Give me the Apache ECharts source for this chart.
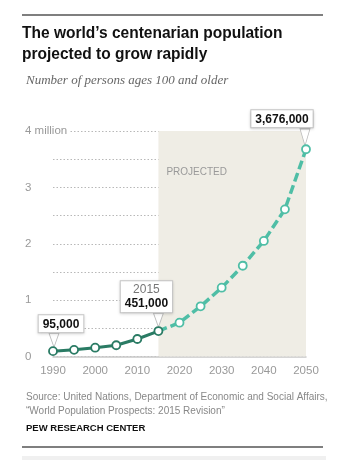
<!DOCTYPE html>
<html>
<head>
<meta charset="utf-8">
<script src="https://cdn.jsdelivr.net/npm/echarts@6/dist/echarts.min.js"></script>
<style>
  html, body { margin: 0; padding: 0; background: #fff; }
  #chart { width: 350px; height: 460px; }
</style>
</head>
<body>
<div id="chart"></div>
<script>
// centenarians, in millions
var histYears = [1990, 1995, 2000, 2005, 2010, 2015];
var histValues = [0.095, 0.118, 0.156, 0.2, 0.31, 0.451];
var projYears = [2015, 2020, 2025, 2030, 2035, 2040, 2045, 2050];
var projValues = [0.451, 0.6, 0.89, 1.22, 1.61, 2.05, 2.61, 3.676];
var xTicks = [1990, 2000, 2010, 2020, 2030, 2040, 2050];
var yTicks = ['0', '1', '2', '3', '4 million'];

var darkTeal = '#2a7b64';
var lightTeal = '#4fbea6';
var font = '"Liberation Sans", Arial, sans-serif';

var myChart = echarts.init(document.getElementById('chart'), null, { renderer: 'canvas' });

function pairs(xs, ys) {
  return xs.map(function (x, i) { return [x, ys[i]]; });
}

// callout labels
var calloutStyle = {
  show: true,
  backgroundColor: '#fff',
  borderColor: '#c8c8c8',
  borderWidth: 1,
  padding: [2, 4, 1, 4],
  shadowColor: 'rgba(0,0,0,0.15)',
  shadowBlur: 3,
  shadowOffsetY: 1,
  fontFamily: font,
  rich: {
    b: { fontSize: 12, fontWeight: 'bold', color: '#111', fontFamily: font, lineHeight: 14 },
    y: { fontSize: 12, color: '#777', fontFamily: font, lineHeight: 14, align: 'center' }
  }
};

var histData = pairs(histYears, histValues).map(function (p, i) {
  if (i === 0) {
    return { value: p, label: Object.assign({}, calloutStyle, { position: 'top', distance: 14, offset: [8, 0], formatter: '{b|95,000}' }) };
  }
  if (i === histYears.length - 1) {
    return { value: p, label: Object.assign({}, calloutStyle, { position: 'top', distance: 14, offset: [-12, 0], formatter: '{y|2015}\n{b|451,000}' }) };
  }
  return p;
});

var projData = pairs(projYears, projValues).map(function (p, i) {
  if (i === 0) return { value: p, symbol: 'none' };
  if (i === projYears.length - 1) {
    return { value: p, label: Object.assign({}, calloutStyle, { position: 'top', distance: 17, offset: [-24, 0], formatter: '{b|3,676,000}' }) };
  }
  return p;
});

// little pointer tails under the callouts
var tail = {
  symbol: 'triangle',
  symbolRotate: 180,
  itemStyle: { color: '#fff', borderColor: '#bdbdbd', borderWidth: 1 },
  label: { show: false }
};
var tails = [
  Object.assign({ coord: [histYears[0], histValues[0]], symbolSize: [10, 14], symbolOffset: [1, -11] }, tail),
  Object.assign({ coord: [histYears[5], histValues[5]], symbolSize: [10, 14], symbolOffset: [0, -11] }, tail),
  Object.assign({ coord: [projYears[7], projValues[7]], symbolSize: [10, 17], symbolOffset: [-1, -12] }, tail)
];

var option = {
  animation: false,
  title: [
    {
      text: 'Number of persons ages 100 and older',
      left: 21, top: 69,
      textStyle: { fontFamily: '"Liberation Serif", "DejaVu Serif", serif', fontStyle: 'italic', fontSize: 13, fontWeight: 'normal', color: '#666' }
    },
    {
      text: 'Source: United Nations, Department of Economic and Social Affairs,\n\u201cWorld Population Prospects: 2015 Revision\u201d',
      left: 21, top: 385,
      textStyle: { fontFamily: font, fontSize: 10, fontWeight: 'normal', color: '#888', lineHeight: 14 }
    },
    {
      text: 'PEW RESEARCH CENTER',
      left: 21, top: 418,
      textStyle: { fontFamily: font, fontSize: 9.5, fontWeight: 'bold', color: '#111' }
    }
  ],
  graphic: [
    { type: 'line', shape: { x1: 22, y1: 15, x2: 323, y2: 15 }, style: { stroke: '#555', lineWidth: 1.5 } },
    {
      type: 'text', x: 22, y: 23, scaleX: 0.94,
      style: {
        text: 'The world\u2019s centenarian population\nprojected to grow rapidly',
        font: 'bold 16.5px ' + font, fill: '#111', lineHeight: 21, verticalAlign: 'top'
      }
    },
    { type: 'line', shape: { x1: 22, y1: 447, x2: 323, y2: 447 }, style: { stroke: '#555', lineWidth: 1.5 } },
    { type: 'rect', shape: { x: 22, y: 456, width: 304, height: 4 }, style: { fill: '#f0f0f0' } }
  ],
  grid: { left: 53, right: 44, top: 131, bottom: 103.5, containLabel: false },
  xAxis: {
    type: 'value',
    min: 1990, max: 2050, interval: 10,
    axisLine: { show: true, lineStyle: { color: '#c8c8c8', width: 1.5 } },
    axisTick: { show: false },
    splitLine: { show: false },
    axisLabel: {
      color: '#999', fontSize: 11.5, fontFamily: font, margin: 8,
      formatter: function (v) { return xTicks.indexOf(v) >= 0 ? String(v) : ''; }
    }
  },
  yAxis: {
    type: 'value',
    min: 0, max: 4, interval: 0.5,
    axisLine: { show: false },
    axisTick: { show: false },
    splitLine: { show: true, lineStyle: { type: [1.5, 2], color: '#b8b8b8', width: 1 } },
    axisLabel: {
      color: '#999', fontSize: 11.5, fontFamily: font, align: 'left', margin: 28,
      backgroundColor: '#fff', padding: [0, 2, 0, 0],
      formatter: function (v) { return v % 1 === 0 ? yTicks[v] : ''; }
    }
  },
  series: [
    {
      name: 'projected',
      type: 'line',
      data: projData,
      z: 2,
      symbol: 'circle',
      symbolSize: 8,
      lineStyle: { color: lightTeal, width: 3.5, type: [9, 4] },
      itemStyle: { color: '#fff', borderColor: lightTeal, borderWidth: 1.8 },
      markArea: {
        silent: true,
        itemStyle: { color: '#efede5' },
        label: {
          show: true, position: [8, 36], color: '#999', fontSize: 10,
          fontFamily: font, formatter: 'PROJECTED'
        },
        data: [[{ xAxis: 2015, yAxis: 0 }, { xAxis: 2050, yAxis: 4 }]]
      }
    },
    {
      name: 'historical',
      type: 'line',
      data: histData,
      z: 3,
      symbol: 'circle',
      symbolSize: 8,
      lineStyle: { color: darkTeal, width: 3 },
      itemStyle: { color: '#fff', borderColor: darkTeal, borderWidth: 1.8 },
      markPoint: { silent: true, z: 1, data: tails }
    }
  ]
};

myChart.setOption(option);
</script>
</body>
</html>
